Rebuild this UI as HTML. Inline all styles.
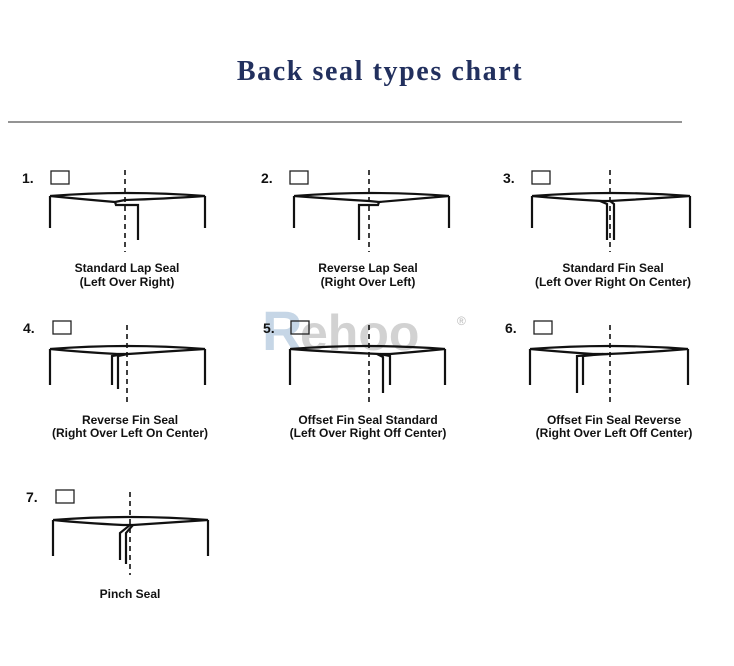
<!DOCTYPE html>
<html><head><style>
body{margin:0;background:#fff;width:734px;height:666px;overflow:hidden;font-family:"Liberation Sans",sans-serif}
</style></head><body>
<svg width="734" height="666" xmlns="http://www.w3.org/2000/svg" style="position:absolute;left:0;top:0">
<text x="380" y="80" text-anchor="middle" font-family="Liberation Serif" font-weight="bold" font-size="28" fill="#22305e" letter-spacing="1.6">Back seal types chart</text>
<line x1="8" y1="122" x2="682" y2="122" stroke="#555" stroke-width="1.2"/>
<text x="262" y="350" font-family="Liberation Sans" font-weight="bold" font-size="56" fill="#b8cde0" opacity="0.8">R</text>
<text x="300" y="350" font-family="Liberation Sans" font-weight="bold" font-size="50" fill="#c8c8c8" opacity="0.8">ehoo</text>
<text x="457" y="325" font-size="12" fill="#bbb">®</text>
<g fill="none" stroke="#111" stroke-width="2.2">
<g>
 <path d="M50,196 Q127,190 205,196 Q160,199 125,200 L115,202 Q80,199 50,196"/>
 <path d="M50,196 L50,228 M205,196 L205,228"/>
 <path d="M115,202 L116,205 L138,205 L138,240"/>
</g>
<g transform="translate(244,0)">
 <path d="M50,196 Q127,190 205,196 Q160,200 135,202 L125,201 Q90,199 50,196"/>
 <path d="M50,196 L50,228 M205,196 L205,228"/>
 <path d="M135,202 L134,205 L115,205 L115,240"/>
</g>
<g transform="translate(485,0)">
 <path d="M47,196 Q127,190 205,196 Q160,199 125,201 L117,201 Q80,199 47,196"/>
 <path d="M47,196 L47,228 M205,196 L205,228"/>
 <path d="M115,201 L122,204 L122,240 M125,201 L129,204 L129,240"/>
</g>
<g transform="translate(0,153)">
 <path d="M50,196 Q127,190 205,196 Q160,199 128,201 L117,201 Q80,199 50,196"/>
 <path d="M50,196 L50,232 M205,196 L205,232"/>
 <path d="M128,201 L118,203 L118,236 M124,201 L112,203 L112,232"/>
</g>
<g transform="translate(240,153)">
 <path d="M50,196 Q127,190 205,196 Q175,199 150,201 L140,201 Q90,199 50,196"/>
 <path d="M50,196 L50,232 M205,196 L205,232"/>
 <path d="M140,201 L150,203 L150,232 M137,201 L143,204 L143,240"/>
</g>
<g transform="translate(483,153)">
 <path d="M47,196 Q127,190 205,196 Q170,199 125,201 L110,201 Q80,199 47,196"/>
 <path d="M47,196 L47,232 M205,196 L205,232"/>
 <path d="M120,201 L100,203 L100,232 M125,201 L94,203 L94,240"/>
</g>
<g transform="translate(3,324)">
 <path d="M50,196 Q127,190 205,196 Q160,199 130,201 L120,201 Q80,199 50,196"/>
 <path d="M50,196 L50,232 M205,196 L205,232"/>
 <path d="M130,201 L123,209 L123,240 M127,201 L117,209 L117,236"/>
</g>
</g>
<g stroke="#111" stroke-width="1.6" stroke-dasharray="5,4">
<line x1="125" y1="170" x2="125" y2="252"/>
<line x1="369" y1="170" x2="369" y2="252"/>
<line x1="610" y1="170" x2="610" y2="252"/>
<line x1="127" y1="325" x2="127" y2="402"/>
<line x1="369" y1="325" x2="369" y2="405"/>
<line x1="610" y1="325" x2="610" y2="402"/>
<line x1="130" y1="492" x2="130" y2="575"/>
</g>
<g fill="none" stroke="#222" stroke-width="1.3">
<rect x="51" y="171" width="18" height="13"/><rect x="290" y="171" width="18" height="13"/><rect x="532" y="171" width="18" height="13"/>
<rect x="53" y="321" width="18" height="13"/><rect x="291" y="321" width="18" height="13"/><rect x="534" y="321" width="18" height="13"/>
<rect x="56" y="490" width="18" height="13"/>
</g>
<g font-family="Liberation Sans" font-weight="bold" font-size="14" fill="#111">
<text x="22" y="183">1.</text><text x="261" y="183">2.</text><text x="503" y="183">3.</text>
<text x="23" y="333">4.</text><text x="263" y="333">5.</text><text x="505" y="333">6.</text>
<text x="26" y="502">7.</text>
</g>
<g font-family="Liberation Sans" font-weight="bold" font-size="12" fill="#111" text-anchor="middle">
<text x="127" y="272">Standard Lap Seal</text><text x="127" y="286">(Left Over Right)</text>
<text x="368" y="272">Reverse Lap Seal</text><text x="368" y="286">(Right Over Left)</text>
<text x="613" y="272">Standard Fin Seal</text><text x="613" y="286">(Left Over Right On Center)</text>
<text x="130" y="424">Reverse Fin Seal</text><text x="130" y="437">(Right Over Left On Center)</text>
<text x="368" y="424">Offset Fin Seal Standard</text><text x="368" y="437">(Left Over Right Off Center)</text>
<text x="614" y="424">Offset Fin Seal Reverse</text><text x="614" y="437">(Right Over Left Off Center)</text>
<text x="130" y="598">Pinch Seal</text>
</g>
</svg>
</body></html>
